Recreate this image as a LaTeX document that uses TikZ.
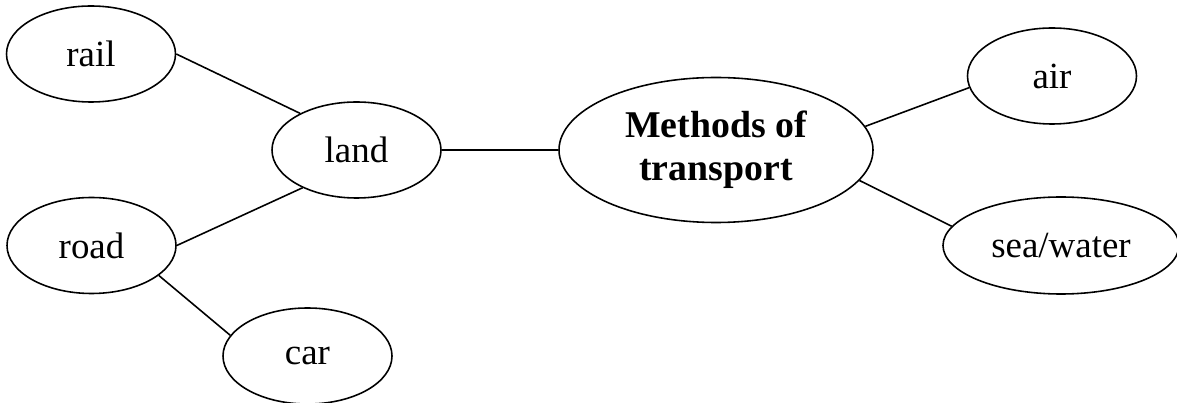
\documentclass[tikz,border=0pt]{standalone}
\usepackage{fontspec}
\setmainfont{Liberation Serif}
\usetikzlibrary{shapes.geometric}
\begin{document}
\begin{tikzpicture}[line width=0.9pt,
    bubble/.style={draw, ellipse, inner sep=0pt, minimum width=3.38cm, minimum height=1.92cm, font=\fontsize{21}{25}\selectfont}]
  \useasboundingbox (0, 0) rectangle (23.54, -8.06);
  \node[bubble] (rail) at (1.82, -1.08) {rail};
  \node[bubble] (land) at (7.13, -3.0) {land};
  \node[bubble] (road) at (1.83, -4.91) {road};
  \node[bubble] (car) at (6.15, -7.12) {car};
  \node[bubble, minimum width=6.28cm, minimum height=2.9cm, align=center, font=\fontsize{21.5}{24.5}\selectfont\bfseries] (methods) at (14.32, -3.0) {Methods of\\transport};
  \node[bubble] (air) at (21.04, -1.52) {air};
  \node[bubble, minimum width=4.72cm, minimum height=1.94cm] (sea) at (21.22, -4.91) {sea/water};
  \draw (rail.east) -- (land.147);
  \draw (land.east) -- (methods.west);
  \draw (land.-145) -- (road.east);
  \draw (road.-24) -- (car.165);
  \draw (methods.9) -- (air.-172);
  \draw (methods.-12) -- (sea.170);
\end{tikzpicture}
\end{document}
